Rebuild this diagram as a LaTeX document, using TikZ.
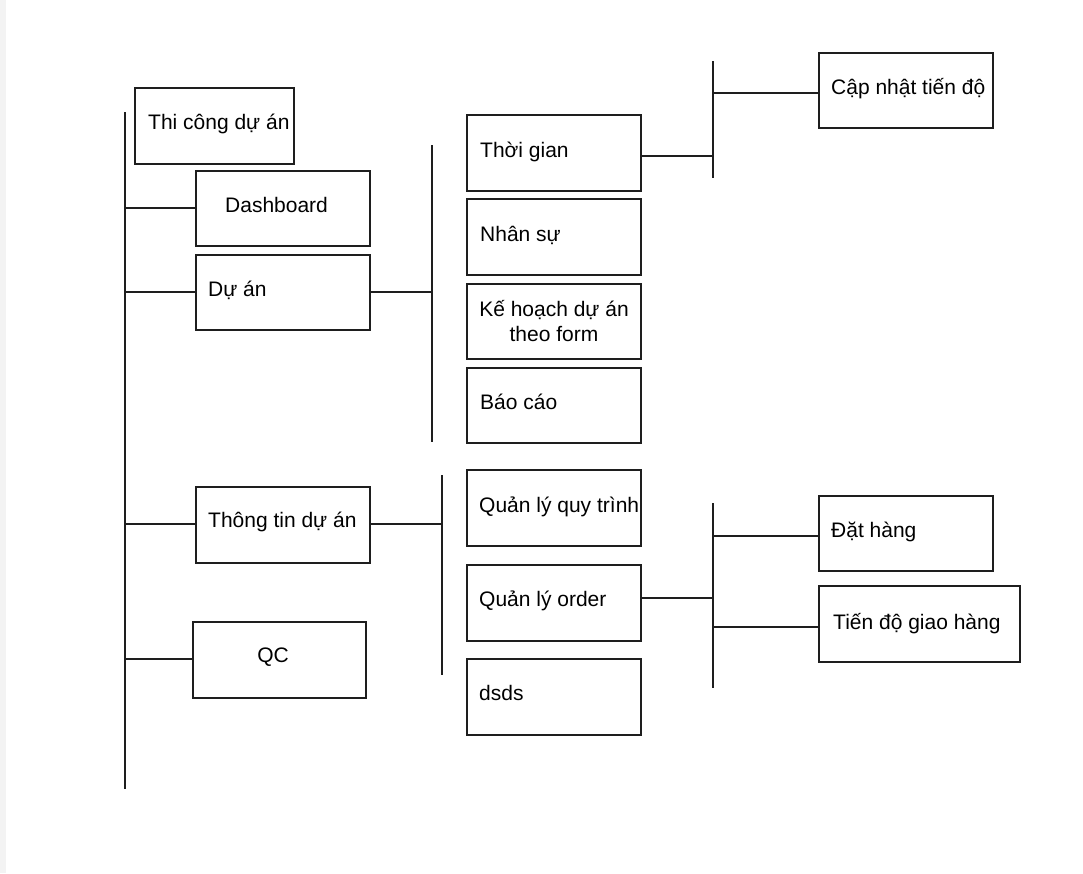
\documentclass[tikz,border=0pt]{standalone}
\usepackage{fontspec}
\setmainfont{Liberation Sans}
\definecolor{lc}{HTML}{1E1E1E}
\definecolor{strip}{HTML}{F3F3F3}
\begin{document}
\begin{tikzpicture}[x=1pt,y=-1pt,
  boxst/.style={draw=lc, line width=1.6pt, inner sep=0pt, outer sep=0pt, anchor=north west},
  lbl/.style={font=\fontsize{21}{25}\selectfont, inner sep=0pt, anchor=base west, text=black},
  conn/.style={draw=lc, line width=1.6pt}]
\useasboundingbox (0,0) rectangle (1083,873);
\fill[white] (0,0) rectangle (1083,873);
\fill[strip] (0,0) rectangle (6,873);
\newcommand\mkbox[5]{\node[boxst, minimum width={#4-#2}, minimum height={#5-#3}] (#1) at (#2,#3) {};}
% boxes
\mkbox{tc}{135}{88}{294}{164}
\mkbox{dash}{196}{171}{370}{246}
\mkbox{duan}{196}{255}{370}{330}
\mkbox{tg}{467}{115}{641}{191}
\mkbox{ns}{467}{199}{641}{275}
\mkbox{kh}{467}{284}{641}{359}
\mkbox{bc}{467}{368}{641}{443}
\mkbox{cn}{819}{53}{993}{128}
\mkbox{ttda}{196}{487}{370}{563}
\mkbox{qc}{193}{622}{366}{698}
\mkbox{qlqt}{467}{470}{641}{546}
\mkbox{qlo}{467}{565}{641}{641}
\mkbox{dsds}{467}{659}{641}{735}
\mkbox{dh}{819}{496}{993}{571}
\mkbox{tdgh}{819}{586}{1020}{662}
% labels
\node[lbl] (tc-t) at (148,129) {Thi công dự án};
\node[lbl] (dash-t) at (225,212) {Dashboard};
\node[lbl] (duan-t) at (208,296) {Dự án};
\node[lbl] (tg-t) at (480,157) {Thời gian};
\node[lbl] (ns-t) at (480,241) {Nhân sự};
\node[lbl, anchor=center, align=center] (kh-t) at (554,321) {Kế hoạch dự án\\theo form};
\node[lbl] (bc-t) at (480,409) {Báo cáo};
\node[lbl] (cn-t) at (831,94) {Cập nhật tiến độ};
\node[lbl] (ttda-t) at (208,527) {Thông tin dự án};
\node[lbl, anchor=base] (qc-t) at (273,662) {QC};
\node[lbl] (qlqt-t) at (479,512) {Quản lý quy trình};
\node[lbl] (qlo-t) at (479,606) {Quản lý order};
\node[lbl] (dsds-t) at (479,700) {dsds};
\node[lbl] (dh-t) at (831,537) {Đặt hàng};
\node[lbl] (tdgh-t) at (833,629) {Tiến độ giao hàng};
% bus lines
\coordinate (m0) at (125,112); \coordinate (m1) at (125,789);
\coordinate (a0) at (432,145); \coordinate (a1) at (432,442);
\coordinate (b0) at (713,61);  \coordinate (b1) at (713,178);
\coordinate (c0) at (442,475); \coordinate (c1) at (442,675);
\coordinate (d0) at (713,503); \coordinate (d1) at (713,688);
\draw[conn] (m0) -- (m1);
\draw[conn] (a0) -- (a1);
\draw[conn] (b0) -- (b1);
\draw[conn] (c0) -- (c1);
\draw[conn] (d0) -- (d1);
% junctions
\coordinate (jm1) at (125,208);
\coordinate (jm2) at (125,292);
\coordinate (jm3) at (125,524);
\coordinate (jm4) at (125,659);
\coordinate (ja1) at (432,292);
\coordinate (jc1) at (442,524);
\coordinate (jb1) at (713,156);
\coordinate (jb2) at (713,93);
\coordinate (jd1) at (713,598);
\coordinate (jd2) at (713,536);
\coordinate (jd3) at (713,627);
% connectors
\draw[conn] (jm1) -- (dash.west |- jm1);
\draw[conn] (jm2) -- (duan.west |- jm2);
\draw[conn] (jm3) -- (ttda.west |- jm3);
\draw[conn] (jm4) -- (qc.west |- jm4);
\draw[conn] (duan.east |- ja1) -- (ja1);
\draw[conn] (tg.east |- jb1) -- (jb1);
\draw[conn] (jb2) -- (cn.west |- jb2);
\draw[conn] (ttda.east |- jc1) -- (jc1);
\draw[conn] (qlo.east |- jd1) -- (jd1);
\draw[conn] (jd2) -- (dh.west |- jd2);
\draw[conn] (jd3) -- (tdgh.west |- jd3);
\end{tikzpicture}
\end{document}
